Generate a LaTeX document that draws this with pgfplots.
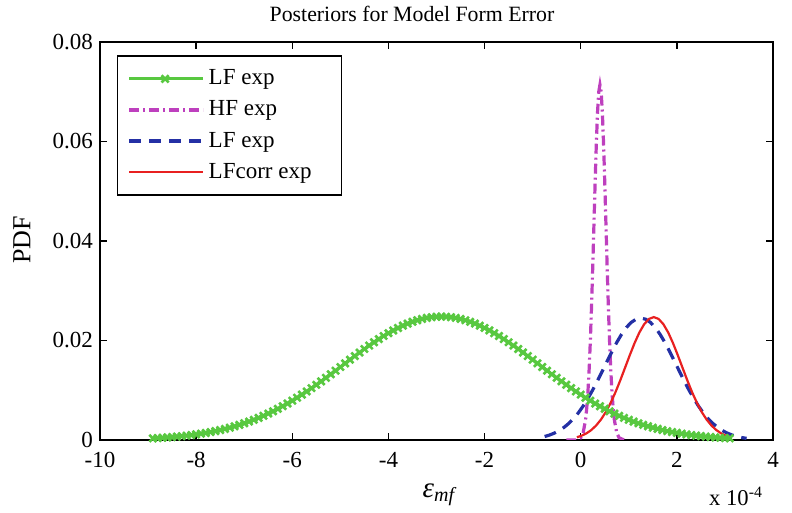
\documentclass[border=0pt]{standalone}
\usepackage{fontspec}
\setmainfont{Liberation Serif}
\usepackage{pgfplots}
\pgfplotsset{compat=1.18}
\definecolor{cgreen}{RGB}{88,200,64}
\definecolor{cmag}{RGB}{190,64,190}
\definecolor{cblue}{RGB}{36,48,165}
\definecolor{cred}{RGB}{232,32,32}
\begin{document}
\begin{tikzpicture}
\begin{axis}[
  at={(0,0)}, anchor=south west,
  scale only axis, width=336.5pt, height=199pt,
  xmin=-10, xmax=4, ymin=0, ymax=0.08,
  scaled y ticks=false, scaled x ticks=false,
  xtick={-10,-8,-6,-4,-2,0,2,4},
  xticklabels={-10,-8,-6,-4,-2,0,2,4},
  ytick={0,0.02,0.04,0.06,0.08},
  yticklabels={0,0.02,0.04,0.06,0.08},
  tick align=inside, major tick length=3.5pt,
  axis line style={line width=0.7pt},
  every tick/.style={line width=0.7pt, black},
  tick label style={font=\fontsize{11.5}{13}\selectfont},
  xticklabel style={yshift=-2.5pt},
  legend style={at={(0.025,0.967)}, anchor=north west, draw=black, line width=0.7pt,
    font=\fontsize{11.5}{13}\selectfont, row sep=2.5pt, inner xsep=5pt, inner ysep=5pt,
    cells={anchor=west}},
  legend image code/.code={\draw[mark repeat=2,mark phase=2,#1] plot coordinates {(0pt,0pt) (18pt,0pt) (37pt,0pt)};},
  legend cell align=left,
]
\addplot[cgreen, line width=1.5pt, mark=x, mark size=2.5pt, mark options={solid, line width=1.3pt}] coordinates {
(-8.9,0.00034) (-8.8,0.00039) (-8.7,0.00045) (-8.6,0.00052) (-8.5,0.00059) (-8.4,0.00068) (-8.3,0.00077) (-8.2,0.00088) (-8.1,0.00099) (-8.0,0.00112)
(-7.9,0.00127) (-7.8,0.00142) (-7.7,0.00160) (-7.6,0.00179) (-7.5,0.00200) (-7.4,0.00223) (-7.3,0.00248) (-7.2,0.00275) (-7.1,0.00304) (-7.0,0.00336)
(-6.9,0.00370) (-6.8,0.00406) (-6.7,0.00445) (-6.6,0.00486) (-6.5,0.00531) (-6.4,0.00577) (-6.3,0.00627) (-6.2,0.00679) (-6.1,0.00733) (-6.0,0.00790)
(-5.9,0.00850) (-5.8,0.00912) (-5.7,0.00976) (-5.6,0.01042) (-5.5,0.01110) (-5.4,0.01179) (-5.3,0.01250) (-5.2,0.01322) (-5.1,0.01394) (-5.0,0.01467)
(-4.9,0.01541) (-4.8,0.01614) (-4.7,0.01687) (-4.6,0.01758) (-4.5,0.01829) (-4.4,0.01898) (-4.3,0.01964) (-4.2,0.02028) (-4.1,0.02090) (-4.0,0.02147)
(-3.9,0.02202) (-3.8,0.02252) (-3.7,0.02298) (-3.6,0.02340) (-3.5,0.02376) (-3.4,0.02407) (-3.3,0.02433) (-3.2,0.02454) (-3.1,0.02468) (-3.0,0.02477)
(-2.9,0.02480) (-2.8,0.02477) (-2.7,0.02468) (-2.6,0.02454) (-2.5,0.02433) (-2.4,0.02407) (-2.3,0.02376) (-2.2,0.02340) (-2.1,0.02298) (-2.0,0.02252)
(-1.9,0.02202) (-1.8,0.02147) (-1.7,0.02090) (-1.6,0.02028) (-1.5,0.01964) (-1.4,0.01898) (-1.3,0.01829) (-1.2,0.01758) (-1.1,0.01687) (-1.0,0.01614)
(-0.9,0.01541) (-0.8,0.01467) (-0.7,0.01394) (-0.6,0.01322) (-0.5,0.01250) (-0.4,0.01179) (-0.3,0.01110) (-0.2,0.01042) (-0.1,0.00976) (0.0,0.00912)
(0.1,0.00850) (0.2,0.00790) (0.3,0.00733) (0.4,0.00679) (0.5,0.00627) (0.6,0.00577) (0.7,0.00531) (0.8,0.00486) (0.9,0.00445) (1.0,0.00406)
(1.1,0.00370) (1.2,0.00336) (1.3,0.00304) (1.4,0.00275) (1.5,0.00248) (1.6,0.00223) (1.7,0.00200) (1.8,0.00179) (1.9,0.00160) (2.0,0.00142)
(2.1,0.00127) (2.2,0.00112) (2.3,0.00099) (2.4,0.00088) (2.5,0.00077) (2.6,0.00068) (2.7,0.00059) (2.8,0.00052) (2.9,0.00045) (3.0,0.00039) (3.1,0.00034)
};
\addlegendentry{LF exp}
\addplot[cmag, line width=1.6pt, dash pattern=on 5pt off 2pt on 1pt off 2pt] coordinates {
(-0.30,0.0) (-0.20,0.00002) (-0.10,0.00002) (0.0,0.00043) (0.05,0.00142) (0.10,0.00401) (0.125,0.00635) (0.15,0.00966) (0.175,0.01413)
(0.20,0.01985) (0.225,0.02680) (0.25,0.03475) (0.275,0.04331) (0.30,0.05185) (0.325,0.05964) (0.35,0.06591) (0.375,0.06999) (0.40,0.07140)
(0.425,0.06999) (0.45,0.06591) (0.475,0.05964) (0.50,0.05185) (0.525,0.04331) (0.55,0.03475) (0.575,0.02680) (0.60,0.01985) (0.625,0.01413)
(0.65,0.00966) (0.675,0.00635) (0.70,0.00401) (0.75,0.00142) (0.80,0.00043) (0.90,0.00002)
};
\addlegendentry{HF exp}
\addplot[cblue, line width=1.6pt, dash pattern=on 6pt off 4pt] coordinates {
(-0.75,0.00070) (-0.65,0.00099) (-0.55,0.00138) (-0.45,0.00188) (-0.35,0.00252) (-0.25,0.00332) (-0.15,0.00429) (-0.05,0.00545) (0.05,0.00681)
(0.15,0.00836) (0.25,0.01007) (0.35,0.01193) (0.45,0.01387) (0.55,0.01585) (0.65,0.01779) (0.75,0.01962) (0.85,0.02125) (0.95,0.02262)
(1.05,0.02364) (1.15,0.02428) (1.25,0.02450) (1.35,0.02428) (1.45,0.02364) (1.55,0.02262) (1.65,0.02125) (1.75,0.01962) (1.85,0.01779)
(1.95,0.01585) (2.05,0.01387) (2.15,0.01193) (2.25,0.01007) (2.35,0.00836) (2.45,0.00681) (2.55,0.00545) (2.65,0.00429) (2.75,0.00332)
(2.85,0.00252) (2.95,0.00188) (3.05,0.00138) (3.15,0.00099) (3.25,0.00070) (3.35,0.00049) (3.45,0.00033)
};
\addlegendentry{LF exp}
\addplot[cred, line width=1.1pt] coordinates {
(-0.08,0.00055) (0.02,0.00087) (0.12,0.00134) (0.22,0.00200) (0.32,0.00291) (0.42,0.00409) (0.52,0.00559) (0.62,0.00741) (0.72,0.00954)
(0.82,0.01192) (0.92,0.01447) (1.02,0.01703) (1.12,0.01947) (1.22,0.02161) (1.32,0.02327) (1.42,0.02434) (1.52,0.02470) (1.62,0.02434)
(1.72,0.02327) (1.82,0.02161) (1.92,0.01947) (2.02,0.01703) (2.12,0.01447) (2.22,0.01192) (2.32,0.00954) (2.42,0.00741) (2.52,0.00559)
(2.62,0.00409) (2.72,0.00291) (2.82,0.00200) (2.92,0.00134) (3.02,0.00087) (3.12,0.00055)
};
\addlegendentry{LFcorr exp\hspace*{8pt}}
\end{axis}
\node[font=\fontsize{10.9}{12}\selectfont] at (156pt,213pt) {Posteriors for Model Form Error};
\node[font=\fontsize{13}{14}\selectfont, rotate=90] at (-39pt,100pt) {PDF};
\node[font=\fontsize{14.5}{15}\selectfont] at (170pt,-27.5pt) {\textit{ε}\textsubscript{\fontsize{10}{11}\selectfont\textit{mf}}};
\node[font=\fontsize{11.3}{12}\selectfont, anchor=east] at (335pt,-28pt) {x 10\textsuperscript{-4}};
\pgfresetboundingbox
\path[use as bounding box] (-50pt,-36.5pt) rectangle (346pt,220pt);
\end{tikzpicture}
\end{document}
